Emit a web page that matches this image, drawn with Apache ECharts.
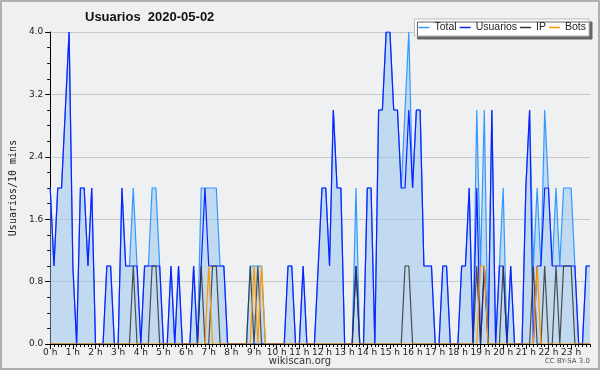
<!DOCTYPE html>
<html>
<head>
<meta charset="utf-8">
<title>Usuarios 2020-05-02</title>
<script src="https://cdn.jsdelivr.net/npm/echarts@6/dist/echarts.min.js"></script>
<style>
  html, body { margin: 0; padding: 0; background: #f0f0f0; }
  #chart { width: 600px; height: 370px; }
</style>
</head>
<body>
<div id="chart"></div>
<script>
// etiquetas del eje x (una por hora)
var hourLabels = ['0 h', '1 h', '2 h', '3 h', '4 h', '5 h', '6 h', '7 h', '8 h', '9 h', '10 h', '11 h',
  '12 h', '13 h', '14 h', '15 h', '16 h', '17 h', '18 h', '19 h', '20 h', '21 h', '22 h', '23 h']

// valores cada 10 minutos (144 puntos, 12 por fila = 2 horas)
var total = [
  2, 1, 2, 2, 3, 4, 1, 0, 2, 2, 1, 2,
  0, 0, 0, 1, 1, 0, 0, 2, 1, 1, 2, 1,
  0, 1, 1, 2, 2, 1, 0, 0, 1, 0, 1, 0,
  0, 0, 1, 0, 2, 2, 2, 2, 2, 1, 1, 0,
  0, 0, 0, 0, 0, 1, 1, 1, 1, 0, 0, 0,
  0, 0, 0, 1, 1, 0, 0, 1, 0, 0, 0, 1,
  2, 2, 1, 3, 2, 2, 0, 0, 0, 2, 0, 0,
  2, 2, 0, 3, 3, 4, 4, 3, 3, 2, 3, 4,
  2, 3, 3, 1, 1, 1, 0, 0, 1, 1, 0, 0,
  0, 1, 1, 2, 0, 3, 1, 3, 0, 3, 0, 1,
  2, 0, 1, 0, 0, 0, 2, 3, 1, 2, 1, 3,
  2, 1, 2, 1, 2, 2, 2, 1, 0, 0, 1, 1
]
var usuarios = [
  2, 1, 2, 2, 3, 4, 1, 0, 2, 2, 1, 2,
  0, 0, 0, 1, 1, 0, 0, 2, 1, 1, 1, 1,
  0, 1, 1, 1, 1, 1, 0, 0, 1, 0, 1, 0,
  0, 0, 1, 0, 1, 2, 1, 1, 1, 1, 1, 0,
  0, 0, 0, 0, 0, 0, 0, 0, 0, 0, 0, 0,
  0, 0, 0, 1, 1, 0, 0, 1, 0, 0, 0, 1,
  2, 2, 1, 3, 2, 2, 0, 0, 0, 1, 0, 0,
  2, 2, 0, 3, 3, 4, 4, 3, 3, 2, 2, 3,
  2, 3, 3, 1, 1, 1, 0, 0, 1, 1, 0, 0,
  0, 1, 1, 2, 0, 2, 0, 1, 0, 3, 0, 1,
  1, 0, 1, 0, 0, 0, 2, 3, 0, 1, 1, 2,
  2, 1, 1, 1, 1, 1, 1, 1, 0, 0, 1, 1
]
var ip = [
  0, 0, 0, 0, 0, 0, 0, 0, 0, 0, 0, 0,
  0, 0, 0, 0, 0, 0, 0, 0, 0, 0, 1, 0,
  0, 0, 0, 1, 1, 0, 0, 0, 0, 0, 0, 0,
  0, 0, 0, 0, 1, 0, 0, 1, 1, 0, 0, 0,
  0, 0, 0, 0, 0, 1, 0, 1, 0, 0, 0, 0,
  0, 0, 0, 0, 0, 0, 0, 0, 0, 0, 0, 0,
  0, 0, 0, 0, 0, 0, 0, 0, 0, 1, 0, 0,
  0, 0, 0, 0, 0, 0, 0, 0, 0, 0, 1, 1,
  0, 0, 0, 0, 0, 0, 0, 0, 0, 0, 0, 0,
  0, 0, 0, 0, 0, 1, 0, 1, 0, 0, 0, 0,
  1, 0, 0, 0, 0, 0, 0, 0, 1, 0, 0, 1,
  0, 0, 1, 0, 1, 1, 1, 0, 0, 0, 0, 0
]
var bots = [
  0, 0, 0, 0, 0, 0, 0, 0, 0, 0, 0, 0,
  0, 0, 0, 0, 0, 0, 0, 0, 0, 0, 0, 0,
  0, 0, 0, 0, 0, 0, 0, 0, 0, 0, 0, 0,
  0, 0, 0, 0, 0, 0, 1, 0, 0, 0, 0, 0,
  0, 0, 0, 0, 0, 0, 1, 0, 1, 0, 0, 0,
  0, 0, 0, 0, 0, 0, 0, 0, 0, 0, 0, 0,
  0, 0, 0, 0, 0, 0, 0, 0, 0, 0, 0, 0,
  0, 0, 0, 0, 0, 0, 0, 0, 0, 0, 0, 0,
  0, 0, 0, 0, 0, 0, 0, 0, 0, 0, 0, 0,
  0, 0, 0, 0, 0, 0, 1, 1, 0, 0, 0, 0,
  0, 0, 0, 0, 0, 0, 0, 0, 0, 1, 0, 0,
  0, 0, 0, 0, 0, 0, 0, 0, 0, 0, 0, 0
]

// franjas de 10 minutos: 00:00 ... 23:50
var slots = []
hourLabels.forEach(function(h, i) {
  for (var m = 0; m < 60; m += 10) {
    slots.push((i < 10 ? '0' + i : i) + ':' + (m === 0 ? '00' : m))
  }
})

var font = "'DejaVu Sans', sans-serif"
var narrow = "'Liberation Sans', Arial, sans-serif"

var chart = echarts.init(document.getElementById('chart'))
chart.setOption({
  animation: false,
  backgroundColor: '#f0f0f0',
  title: {
    text: 'Usuarios  2020-05-02',
    left: 85,
    top: 11,
    padding: 0,
    textStyle: { fontFamily: narrow, fontWeight: 'bold', fontSize: 13, color: '#111' }
  },
  legend: {
    top: 19,
    right: 11,
    icon: 'rect',
    itemWidth: 11,
    itemHeight: 1.5,
    itemGap: 3,
    padding: [3, 3, 3, 4],
    backgroundColor: '#fff',
    borderColor: '#bbb',
    borderWidth: 1,
    shadowColor: '#666',
    shadowBlur: 0,
    shadowOffsetX: 3,
    shadowOffsetY: 3,
    textStyle: { fontFamily: narrow, fontSize: 10.5, color: '#222' },
    data: ['Total', 'Usuarios', 'IP', 'Bots']
  },
  grid: {
    left: 46,
    right: 10,
    top: 32,
    bottom: 26,
    show: true,
    backgroundColor: '#eef0f2',
    borderWidth: 0
  },
  xAxis: [
    {
      type: 'category',
      data: slots,
      boundaryGap: false,
      position: 'bottom',
      z: 10,
      axisLine: { lineStyle: { color: '#000' } },
      axisTick: { interval: 5, length: 5, lineStyle: { color: '#000' } },
      axisLabel: {
        interval: 5,
        margin: 4,
        fontFamily: font,
        fontSize: 9,
        color: '#222',
        formatter: function(v, idx) {
          return hourLabels[idx / 6]
        }
      },
      splitLine: { show: false }
    },
    {
      // marcas menores cada 10 minutos
      type: 'category',
      data: slots,
      boundaryGap: false,
      position: 'bottom',
      z: 10,
      axisLine: { show: false },
      axisTick: { interval: 0, length: 3, lineStyle: { color: '#000' } },
      axisLabel: { show: false },
      splitLine: { show: false }
    }
  ],
  yAxis: {
    type: 'value',
    min: 0,
    max: 4,
    interval: 0.8,
    name: 'Usuarios/10 mins',
    nameLocation: 'middle',
    nameGap: 32,
    nameTextStyle: { fontFamily: 'DejaVu Sans Mono', fontSize: 10, color: '#222' },
    axisLine: { show: true, lineStyle: { color: '#000' } },
    axisTick: { show: true, length: 5, lineStyle: { color: '#000' } },
    minorTick: { show: true, splitNumber: 4, length: 3, lineStyle: { color: '#000' } },
    axisLabel: {
      margin: 7,
      fontFamily: font,
      fontSize: 9,
      color: '#222',
      formatter: function(v) {
        return v.toFixed(1)
      }
    },
    splitLine: { lineStyle: { color: '#c8c8c8' } }
  },
  series: [
    {
      name: 'Total',
      type: 'line',
      data: total,
      symbol: 'none',
      color: '#3399ff',
      lineStyle: { width: 1.2 },
      areaStyle: { color: '#9cc8ee', opacity: 0.55 }
    },
    {
      name: 'Usuarios',
      type: 'line',
      data: usuarios,
      symbol: 'none',
      color: '#1020ff',
      lineStyle: { width: 1.2 }
    },
    {
      name: 'IP',
      type: 'line',
      data: ip,
      symbol: 'none',
      color: '#333333',
      lineStyle: { width: 1.2, opacity: 0.85 }
    },
    {
      name: 'Bots',
      type: 'line',
      data: bots,
      symbol: 'none',
      color: '#ff9900',
      lineStyle: { width: 1.2 }
    }
  ],
  graphic: [
    {
      type: 'rect',
      silent: true,
      shape: { x: 1, y: 1, width: 598, height: 368 },
      style: { fill: null, stroke: '#b0b0b0', lineWidth: 2 }
    },
    {
      type: 'text',
      left: 'center',
      top: 356,
      style: { text: 'wikiscan.org', font: '10px ' + font, fill: '#333' }
    },
    {
      type: 'text',
      right: 10,
      top: 358,
      style: { text: 'CC BY-SA 3.0', font: '7px ' + font, fill: '#555' }
    }
  ]
})
</script>
</body>
</html>
